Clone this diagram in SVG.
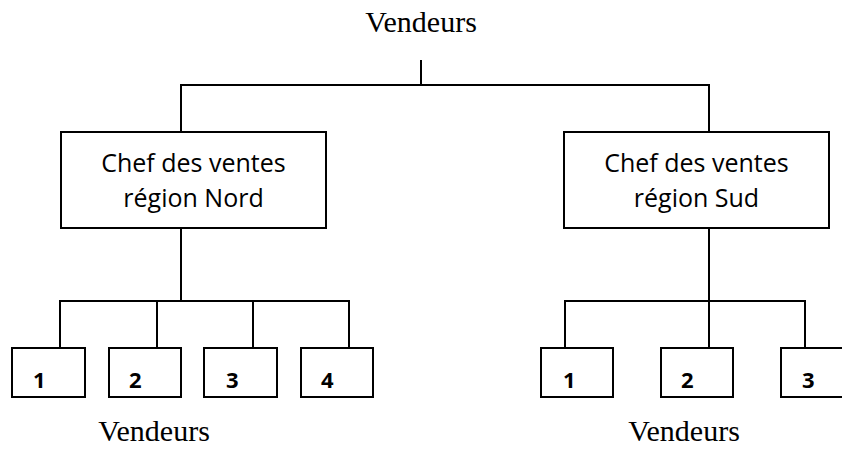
<svg xmlns="http://www.w3.org/2000/svg" width="842" height="449" viewBox="0 0 842 449">
  <style>
    .box { fill: #ffffff; stroke: #000000; stroke-width: 2; }
    .wire { fill: none; stroke: #000000; stroke-width: 2; }
    .title { font-family: "Liberation Serif", "Times New Roman", serif; font-size: 30px; fill: #000000; text-anchor: middle; }
    .chef { font-family: "Open Sans", "Liberation Sans", sans-serif; font-size: 25px; fill: #000000; text-anchor: middle; }
    .num { font-family: "Open Sans", "Liberation Sans", sans-serif; font-size: 22px; font-weight: bold; fill: #000000; }
  </style>
  <rect width="842" height="449" fill="#ffffff"/>

  <!-- connectors: root bar, then the two regional trees -->
  <g id="connectors" class="wire">
    <path d="M421 60 V85 M181 132 V85 H709 V132"/>
    <path d="M181 228 V301 M60 348 V301 H349 V348 M157 301 V348 M253 301 V348"/>
    <path d="M709 228 V301 M565 348 V301 H805 V348 M709 301 V348"/>
  </g>

  <g id="vendeurs-top">
    <text class="title" x="421" y="32">Vendeurs</text>
  </g>

  <g id="chef-nord">
    <rect class="box" x="61" y="132" width="265" height="96"/>
    <text class="chef" x="193.5" y="172">Chef des ventes</text>
    <text class="chef" x="193.5" y="207">région Nord</text>
  </g>

  <g id="chef-sud">
    <rect class="box" x="564" y="132" width="265" height="96"/>
    <text class="chef" x="696.5" y="172">Chef des ventes</text>
    <text class="chef" x="696.5" y="207">région Sud</text>
  </g>

  <g id="nord-1"><rect class="box" x="12" y="348" width="73" height="49"/><text class="num" x="33" y="388">1</text></g>
  <g id="nord-2"><rect class="box" x="109" y="348" width="72" height="49"/><text class="num" x="129" y="388">2</text></g>
  <g id="nord-3"><rect class="box" x="204" y="348" width="73" height="49"/><text class="num" x="226" y="388">3</text></g>
  <g id="nord-4"><rect class="box" x="301" y="348" width="72" height="49"/><text class="num" x="321" y="388">4</text></g>

  <g id="sud-1"><rect class="box" x="541" y="348" width="72" height="49"/><text class="num" x="563" y="388">1</text></g>
  <g id="sud-2"><rect class="box" x="661" y="348" width="72" height="49"/><text class="num" x="681" y="388">2</text></g>
  <g id="sud-3"><rect class="box" x="781" y="348" width="73" height="49"/><text class="num" x="802" y="388">3</text></g>

  <g id="vendeurs-nord">
    <text class="title" x="154" y="441">Vendeurs</text>
  </g>
  <g id="vendeurs-sud">
    <text class="title" x="684" y="441">Vendeurs</text>
  </g>
</svg>
